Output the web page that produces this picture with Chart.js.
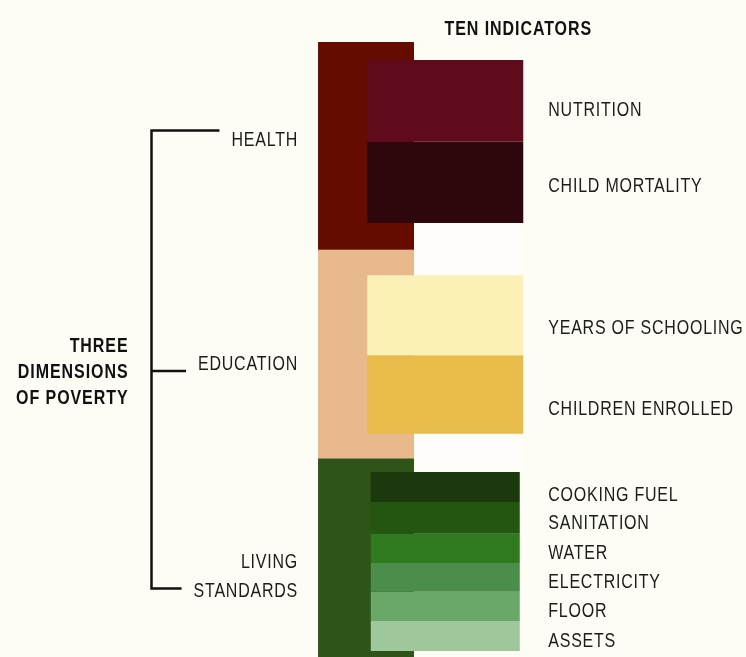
<!DOCTYPE html>
<html>
<head>
<meta charset="utf-8">
<script src="https://cdn.jsdelivr.net/npm/chart.js@4.4.0/dist/chart.umd.min.js"></script>
<style>
  html, body { margin: 0; padding: 0; background: #fefdf5; }
  #wrap { width: 746px; height: 657px; position: relative; }
</style>
</head>
<body>
<div id="wrap"><canvas id="chart"></canvas></div>
<script>
// Data: vertical extents, whole column = 0..100 (a third per dimension)
const columns = ['DIMENSIONS', 'INDICATORS'];

const dimensionLabels = [['HEALTH'], ['EDUCATION'], ['LIVING', 'STANDARDS']];
const dimensionSpans = [[0, 33.3], [33.3, 66.7], [66.7, 100]];
const dimensionColors = ['#650b00', '#e7b98c', '#2e5418'];

const indicators = ['NUTRITION', 'CHILD MORTALITY', 'YEARS OF SCHOOLING', 'CHILDREN ENROLLED',
  'COOKING FUEL', 'SANITATION', 'WATER', 'ELECTRICITY', 'FLOOR', 'ASSETS'];
const indicatorGroup = [0, 0, 1, 1, 2, 2, 2, 2, 2, 2];
const indicatorSpans = [[2.9, 16.0], [16.0, 29.0], [37.4, 50.2], [50.2, 62.8],
  [68.9, 73.7], [73.7, 78.8], [78.8, 83.5], [83.5, 88.1], [88.1, 92.8], [92.8, 97.6]];
const indicatorColors = ['#5f0b1b', '#2d070c', '#fbf0b5', '#e8bc4b',
  '#1b390c', '#245612', '#2f7a1f', '#4b8d4b', '#6aa86a', '#9ec79b'];

// the lighter patches between the indicator groups
const gapSpans = [[29.0, 37.4], [62.8, 68.9]];
const gapColor = '#fffdfa';

const FONT = '"Liberation Sans", Arimo, Arial, sans-serif';
const SQUEEZE = 0.78; // fake a condensed face

// build one dataset per block
var datasets = [];
dimensionSpans.forEach(function(span, i) {
    datasets.push({
        label: dimensionLabels[i].join(' '),
        data: [span, null],
        backgroundColor: dimensionColors[i],
        barPercentage: 1.211,
        order: 1
    });
});
indicatorSpans.forEach(function(span, i) {
    datasets.push({
        label: indicators[i],
        data: [null, span],
        backgroundColor: indicatorColors[i],
        barPercentage: indicatorGroup[i] == 2 ? 1.88 : 1.968,
        order: 0
    });
});
gapSpans.forEach(function(span, i) {
    datasets.push({
        label: 'gap' + i,
        data: [null, span],
        backgroundColor: gapColor,
        barPercentage: 1.968,
        order: 2
    });
});

function squeezedText(ctx, text, x, y, align) {
    ctx.save();
    ctx.translate(x, y);
    ctx.scale(SQUEEZE, 1);
    ctx.textAlign = align;
    ctx.fillText(text, 0, 0);
    var w = ctx.measureText(text).width * SQUEEZE;
    ctx.restore();
    return w;
}

// text and bracket drawn on top of the bars
const labelPlugin = {
    id: 'mpiLabels',
    afterDatasetsDraw(chart, args, opts) {
        const ctx = chart.ctx;
        const xs = chart.scales.x, ys = chart.scales.y;
        const capHalf = 7.4;
        ctx.save();
        ctx.fillStyle = '#1c1c1c';
        ctx.textBaseline = 'alphabetic';

        // indicator names
        ctx.font = '20.5px ' + FONT;
        ctx.letterSpacing = '1px';
        var lx = xs.getPixelForValue(1) + opts.indicatorGap;
        indicators.forEach(function(name, i) {
            var mid = ys.getPixelForValue((indicatorSpans[i][0] + indicatorSpans[i][1]) / 2);
            squeezedText(ctx, name, lx, mid + opts.indicatorShift[i] + capHalf, 'left');
        });

        // dimension names + bracket ticks
        var dx = xs.getPixelForValue(0) - opts.dimensionGap;
        var ticks = [];
        dimensionLabels.forEach(function(lines, i) {
            var mid = ys.getPixelForValue((dimensionSpans[i][0] + dimensionSpans[i][1]) / 2);
            var w = 0;
            lines.forEach(function(t, k) {
                var tw = squeezedText(ctx, t, dx, mid + opts.dimensionShift[i] + k * opts.lineGap + capHalf, 'right');
                w = Math.max(w, tw);
            });
            ticks.push({ y: mid + opts.tickShift[i], end: dx - w - 12 });
        });

        ctx.strokeStyle = '#111';
        ctx.lineWidth = 2.5;
        ctx.beginPath();
        ctx.moveTo(opts.bracketX, ticks[0].y);
        ctx.lineTo(opts.bracketX, ticks[2].y);
        ticks.forEach(function(t) {
            ctx.moveTo(opts.bracketX - 1.2, t.y);
            ctx.lineTo(t.end, t.y);
        });
        ctx.stroke();

        // bold headings
        ctx.font = 'bold 20.5px ' + FONT;
        ctx.letterSpacing = '1.2px';
        ctx.fillStyle = '#111';
        ['THREE', 'DIMENSIONS', 'OF POVERTY'].forEach(function(t, k) {
            squeezedText(ctx, t, opts.bracketX - 23, ticks[1].y + (k - 1) * 26 + capHalf, 'right');
        });
        squeezedText(ctx, 'TEN INDICATORS', xs.getPixelForValue(1) + 73, 27.7 + capHalf, 'center');
        ctx.restore();
    }
};

var ctx = document.getElementById('chart').getContext('2d');
var chart = new Chart(ctx, {
    type: 'bar',
    data: {
        labels: columns,
        datasets: datasets
    },
    options: {
        responsive: true,
        maintainAspectRatio: false,
        animation: false,
        layout: { padding: { left: 326.4, right: 261.1, top: 0, bottom: 0 } },
        datasets: { bar: { grouped: false, categoryPercentage: 1, clip: false, borderWidth: 0 } },
        scales: {
            x: { display: false, offset: true },
            y: { display: false, reverse: true, min: -6.73, max: 98.56 }
        },
        plugins: {
            legend: { display: false },
            tooltip: { enabled: false },
            mpiLabels: {
                indicatorGap: 103,
                indicatorShift: [8, 2.5, 11.5, 13, 7, 3.5, 3, 3.5, 3.5, 3.5],
                dimensionGap: 68,
                dimensionShift: [-7, 8.5, -1.5],
                lineGap: 29.5,
                tickShift: [-15.5, 17, 26.5],
                bracketX: 151.5
            }
        }
    },
    plugins: [labelPlugin]
});
</script>
</body>
</html>
